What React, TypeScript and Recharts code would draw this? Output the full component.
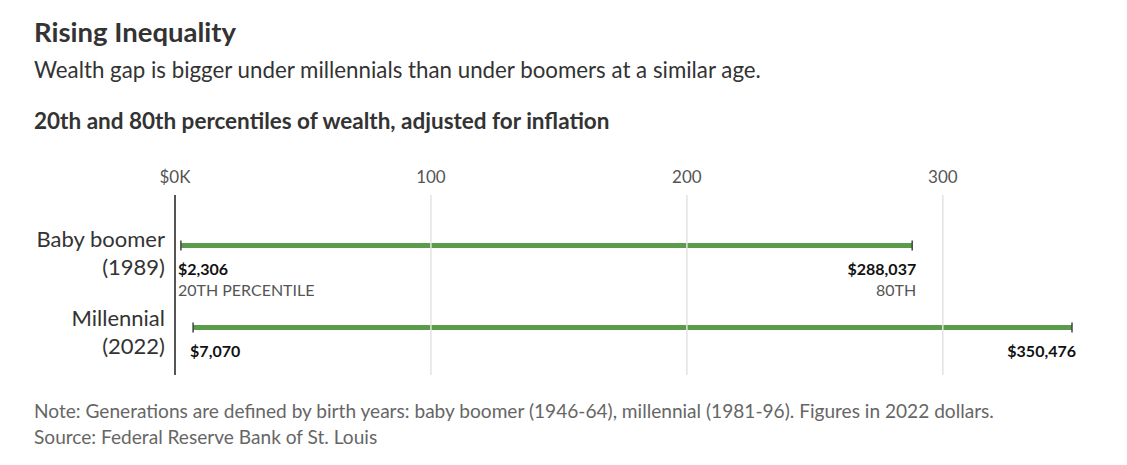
import React from 'react'
import { ComposedChart, Bar, XAxis, YAxis, ReferenceLine } from 'recharts'

const generations = ['Baby boomer', 'Millennial']
const surveyYears = ['(1989)', '(2022)']
const p20Dollars = [2306, 7070]
const p80Dollars = [288037, 350476]
const p20Notes = ['20TH PERCENTILE', '']
const p80Notes = ['80TH', '']
const xTicks = [0, 100, 200, 300]

const FONT = "Lato, 'Noto Sans', sans-serif"
const GREEN = '#5b9c4a'

const data = generations.map((g, i) => ({
  name: g,
  year: surveyYears[i],
  range: [p20Dollars[i] / 1000, p80Dollars[i] / 1000],
  low: p20Dollars[i],
  high: p80Dollars[i],
  lowNote: p20Notes[i],
  highNote: p80Notes[i],
}))

const money = (v: number) => '$' + v.toLocaleString('en-US')

const RangeShape = (props: any) => {
  const { x, y, width, height, payload } = props
  const cy = y + height / 2
  const x2 = x + width
  return (
    <g>
      <rect x={x} y={y} width={width} height={height} fill={GREEN} />
      <line x1={x} x2={x} y1={cy - 5} y2={cy + 5} stroke="#444" strokeWidth={1.5} />
      <line x1={x2} x2={x2} y1={cy - 5} y2={cy + 5} stroke="#444" strokeWidth={1.5} />
      <text x={x - 3} y={cy + 29} fontFamily={FONT} fontSize={16} fontWeight={700} fill="#111">
        {money(payload.low)}
      </text>
      <text x={x2 + 4} y={cy + 29} textAnchor="end" fontFamily={FONT} fontSize={16} fontWeight={700} fill="#111">
        {money(payload.high)}
      </text>
      {payload.lowNote && (
        <text x={x - 3} y={cy + 50} fontFamily={FONT} fontSize={16} fill="#555">
          {payload.lowNote}
        </text>
      )}
      {payload.highNote && (
        <text x={x2 + 4} y={cy + 50} textAnchor="end" fontFamily={FONT} fontSize={16} fill="#555">
          {payload.highNote}
        </text>
      )}
    </g>
  )
}

const CategoryTick = (props: any) => {
  const { x, y, payload, index } = props
  const row = data.find(d => d.name === payload.value)
  const shift = index === 0 ? 0 : -3
  return (
    <g>
      <text x={x - 2} y={y + 2 + shift} textAnchor="end" fontFamily={FONT} fontSize={22} fill="#333">
        {payload.value}
      </text>
      <text x={x - 2} y={y + 30 + shift} textAnchor="end" fontFamily={FONT} fontSize={22} fill="#333">
        {row ? row.year : ''}
      </text>
    </g>
  )
}

export default function App() {
  return (
    <div style={{ position: 'absolute', left: 0, top: 0, width: 1127, height: 465, background: '#fff', fontFamily: FONT }}>
      <div style={{ position: 'absolute', left: 34, top: 15, fontSize: 27.5, fontWeight: 700, color: '#333' }}>
        Rising Inequality
      </div>
      <div style={{ position: 'absolute', left: 34, top: 56, fontSize: 22.3, color: '#333' }}>
        Wealth gap is bigger under millennials than under boomers at a similar age.
      </div>
      <div style={{ position: 'absolute', left: 34, top: 107, fontSize: 22.5, fontWeight: 700, color: '#333' }}>
        20th and 80th percentiles of wealth, adjusted for inflation
      </div>
      <div style={{ position: 'absolute', top: 0, left: 0 }}>
        <ComposedChart
          width={1127}
          height={400}
          layout="vertical"
          data={data}
          margin={{ top: 150, right: 55, bottom: 25, left: 0 }}
        >
          {xTicks.slice(1).map(t => (
            <ReferenceLine key={t} x={t} stroke="#e3e3e3" strokeWidth={1.5} />
          ))}
          <XAxis
            type="number"
            orientation="top"
            domain={[0, 'dataMax']}
            ticks={xTicks}
            height={45}
            axisLine={false}
            tickLine={false}
            tickMargin={6}
            tick={{ fontFamily: FONT, fontSize: 17, fill: '#555' }}
            tickFormatter={(v: number) => (v === 0 ? '$0K' : String(v))}
          />
          <YAxis
            type="category"
            dataKey="name"
            width={175}
            axisLine={false}
            tickLine={false}
            padding={{ top: 9, bottom: 7 }}
            tick={<CategoryTick />}
          />
          <ReferenceLine x={0} stroke="#555" strokeWidth={2} />
          <Bar dataKey="range" barSize={5} shape={<RangeShape />} isAnimationActive={false} />
        </ComposedChart>
      </div>
      <div style={{ position: 'absolute', left: 34, top: 399, fontSize: 19.1, color: '#666' }}>
        Note: Generations are defined by birth years: baby boomer (1946-64), millennial (1981-96). Figures in 2022 dollars.
      </div>
      <div style={{ position: 'absolute', left: 34, top: 425, fontSize: 19.1, color: '#666' }}>
        Source: Federal Reserve Bank of St. Louis
      </div>
    </div>
  )
}
